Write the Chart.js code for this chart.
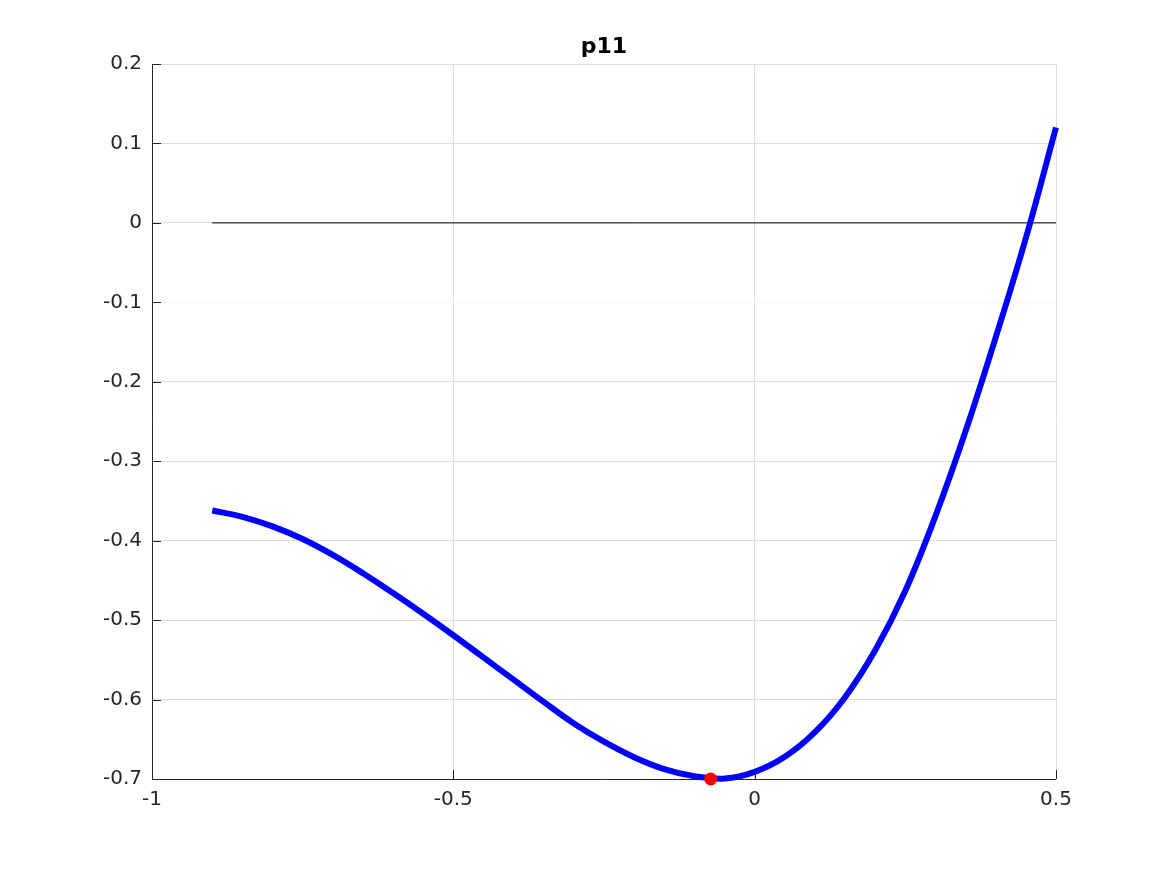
<!DOCTYPE html>
<html>
<head>
<meta charset="utf-8">
<script src="https://cdn.jsdelivr.net/npm/chart.js@4.4.0/dist/chart.umd.min.js"></script>
<style>
  html, body { margin: 0; padding: 0; background: #fff; }
  #wrap { width: 1167px; height: 875px; }
</style>
</head>
<body>
<div id="wrap"><canvas id="c" width="1167" height="875"></canvas></div>
<script>
// data
const titleText = 'p11';
const curveX = [-0.9, -0.85, -0.8, -0.75, -0.7, -0.65, -0.6, -0.55, -0.5, -0.45, -0.4, -0.35, -0.3, -0.25, -0.2, -0.15, -0.1, -0.05, 0, 0.05, 0.1, 0.15, 0.2, 0.25, 0.3, 0.35, 0.4, 0.45, 0.5];
const curveY = [-0.362, -0.370, -0.382, -0.398, -0.418, -0.441, -0.466, -0.492, -0.519, -0.547, -0.575, -0.603, -0.630, -0.653, -0.6725, -0.6875, -0.6965, -0.6995, -0.691, -0.672, -0.641, -0.597, -0.538, -0.463, -0.369, -0.262, -0.144, -0.019, 0.120];
const zeroX = [-0.9, 0.5];
const zeroY = [0, 0];
const minX = [-0.073];
const minY = [-0.700];
const xTicks = [-1, -0.5, 0, 0.5];
const yTicks = [0.2, 0.1, 0, -0.1, -0.2, -0.3, -0.4, -0.5, -0.6, -0.7];

const pts = (xs, ys) => xs.map((x, i) => ({ x: x, y: ys[i] }));
const FONT = "'DejaVu Sans', sans-serif";
const AX = '#262626';

// axes (left/bottom) with inward ticks, plus the title
const axesPlugin = {
    id: 'axesPlugin',
    beforeDatasetsDraw(chart) {
        const ctx = chart.ctx;
        const a = chart.chartArea;
        const sx = chart.scales.x, sy = chart.scales.y;
        ctx.save();
        ctx.strokeStyle = AX;
        ctx.lineWidth = 1;
        ctx.beginPath();
        ctx.moveTo(a.left + 0.5, a.top);
        ctx.lineTo(a.left + 0.5, a.bottom + 0.5);
        ctx.lineTo(a.right, a.bottom + 0.5);
        yTicks.forEach(v => {
            const y = Math.round(sy.getPixelForValue(v)) + 0.5;
            ctx.moveTo(a.left, y);
            ctx.lineTo(a.left + 9, y);
        });
        xTicks.forEach(v => {
            const x = Math.round(sx.getPixelForValue(v)) + 0.5;
            ctx.moveTo(x, a.bottom);
            ctx.lineTo(x, a.bottom - 9);
        });
        ctx.stroke();

        ctx.fillStyle = '#000';
        ctx.font = 'bold 22px ' + FONT;
        ctx.textAlign = 'center';
        ctx.textBaseline = 'alphabetic';
        ctx.fillText(titleText, (a.left + a.right) / 2, 53);
        ctx.restore();
    }
};

new Chart(document.getElementById('c'), {
    type: 'scatter',
    data: {
        datasets: [
            {
                data: pts(zeroX, zeroY),
                showLine: true,
                borderColor: '#000',
                borderWidth: 1,
                pointRadius: 0,
                order: 3
            },
            {
                data: pts(curveX, curveY),
                showLine: true,
                borderColor: '#0000ff',
                borderWidth: 6,
                pointRadius: 0,
                tension: 0.4,
                clip: false,
                order: 2
            },
            {
                data: pts(minX, minY),
                backgroundColor: '#ff0000',
                borderColor: '#ff0000',
                pointRadius: 6.5,
                borderWidth: 0,
                clip: false,
                order: 1
            }
        ]
    },
    options: {
        responsive: false,
        animation: false,
        events: [],
        layout: { padding: { left: 0, top: 64, right: 111, bottom: 0 } },
        plugins: { legend: { display: false }, tooltip: { enabled: false } },
        scales: {
            x: {
                type: 'linear',
                min: -1, max: 0.5,
                afterBuildTicks: s => { s.ticks = xTicks.map(v => ({ value: v })); },
                afterFit: s => { s.height = 96; },
                border: { display: false },
                grid: { color: '#dedede', drawTicks: false },
                ticks: {
                    padding: 9,
                    color: AX,
                    font: { family: FONT, size: 20 },
                    callback: v => String(v)
                }
            },
            y: {
                type: 'linear',
                min: -0.7, max: 0.2,
                afterBuildTicks: s => { s.ticks = yTicks.map(v => ({ value: v })); },
                afterFit: s => { s.width = 152; },
                border: { display: false },
                grid: {
                    drawTicks: false,
                    color: c => (c.tick && Math.abs(c.tick.value + 0.1) < 1e-6) ? '#f7f7f7' : '#dedede'
                },
                ticks: {
                    padding: 10,
                    color: AX,
                    font: { family: FONT, size: 20 },
                    callback: v => String(Math.round(v * 10) / 10)
                }
            }
        }
    },
    plugins: [axesPlugin]
});
</script>
</body>
</html>
